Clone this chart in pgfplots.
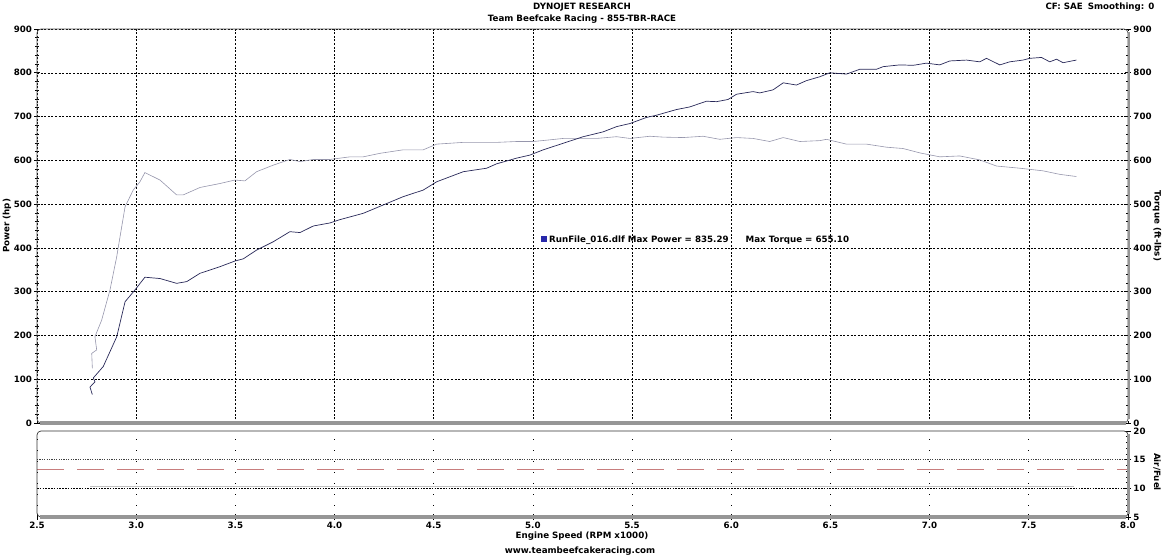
\documentclass[border=0pt]{standalone}
\usepackage{pgfplots}
\pgfplotsset{compat=1.18}
\usepackage{fontspec}
\setmainfont{DejaVu Sans}
\newcommand\f{\fontsize{8.7}{10}\selectfont\bfseries}
\definecolor{pow}{RGB}{40,40,88}
\definecolor{tq}{RGB}{150,150,172}
\definecolor{afr}{RGB}{200,125,125}
\definecolor{frgray}{RGB}{150,150,150}
\definecolor{legblue}{RGB}{40,40,170}
\begin{document}
\begin{tikzpicture}[x=1pt,y=1pt]
\path[use as bounding box] (0,0) rectangle (1164,556);
\pgfplotsset{
  common/.style={
    width=1091pt, scale only axis,
    xmin=2.5, xmax=8,
    axis line style={draw=none},
    tick align=center,
    major tick length=6pt, minor tick length=4pt,
    tick style={black, line width=0.6pt},
    ticklabel style={font=\f},
    /pgf/number format/assume math mode=true,
    clip=true,
  }
}
% main axis: power and torque
\begin{axis}[common, height=394pt, at={(37pt,133pt)}, anchor=south west,
  ymin=0, ymax=900,
  xtick={2.5,3,...,8}, xticklabels={}, xtick style={draw=none},
  ytick={0,100,...,900}, minor y tick num=4,
  ytick pos=left, yticklabel pos=left,
  yticklabel style={xshift=1.5pt},
  grid=major,
  major grid style={black, line width=0.5pt, dash pattern=on 2pt off 1.6pt},
]
\addplot[tq, line width=0.6pt] coordinates {
(2.779,125) (2.776,159) (2.801,167) (2.792,197) (2.826,235) (2.868,304)
(2.902,380) (2.927,448) (2.944,494) (2.985,532) (3.019,551) (3.044,572)
(3.120,555) (3.204,521) (3.237,521) (3.322,538) (3.422,547) (3.498,555)
(3.548,553) (3.607,574) (3.691,589) (3.775,602) (3.826,597) (3.893,602)
(3.977,602) (4.078,608) (4.145,608) (4.229,616) (4.346,624) (4.447,624)
(4.515,637) (4.649,641) (4.817,641) (4.918,643) (5.002,643) (5.069,646)
(5.153,650) (5.321,650) (5.422,654) (5.489,650) (5.590,655) (5.657,653)
(5.758,652) (5.858,655) (5.942,648) (6.027,652) (6.110,650) (6.194,643)
(6.262,652) (6.346,643) (6.447,645) (6.480,648) (6.581,637) (6.682,637)
(6.783,630) (6.866,627) (6.951,617) (7.051,608) (7.152,610) (7.253,601)
(7.337,587) (7.455,582) (7.572,576) (7.656,568) (7.740,563)
};
\addplot[pow, line width=0.7pt] coordinates {
(2.779,65) (2.767,82) (2.792,94) (2.784,103) (2.834,129) (2.902,197)
(2.944,277) (2.994,304) (3.044,333) (3.120,330) (3.204,319) (3.255,323)
(3.322,342) (3.422,357) (3.498,370) (3.540,375) (3.607,395) (3.691,414)
(3.775,437) (3.826,435) (3.893,450) (3.977,457) (4.023,464) (4.145,479)
(4.346,517) (4.447,532) (4.515,551) (4.649,574) (4.767,582) (4.817,592)
(4.918,605) (4.985,612) (5.052,624) (5.153,639) (5.254,654) (5.354,665)
(5.422,677) (5.489,684) (5.573,698) (5.623,703) (5.724,716) (5.791,722)
(5.875,735) (5.926,734) (5.984,739) (6.027,751) (6.110,757) (6.144,754)
(6.211,761) (6.262,777) (6.329,772) (6.379,782) (6.447,791) (6.497,800)
(6.581,797) (6.648,808) (6.732,808) (6.766,814) (6.850,818) (6.917,817)
(6.984,822) (7.051,818) (7.102,827) (7.186,829) (7.253,825) (7.287,833)
(7.354,818) (7.404,825) (7.471,829) (7.505,833) (7.564,835) (7.606,825)
(7.640,831) (7.673,823) (7.740,829)
};
\end{axis}
% right torque scale
\begin{axis}[common, height=394pt, at={(37pt,133pt)}, anchor=south west,
  ymin=0, ymax=900,
  xtick=\empty,
  ytick={0,100,...,900}, minor y tick num=4,
  ytick pos=right, yticklabel pos=right,
  yticklabel style={xshift=-1pt},
]
\addplot[draw=none] coordinates {(2.5,0)};
\end{axis}
% lower air/fuel panel
\begin{axis}[common, height=86pt, at={(37pt,39pt)}, anchor=south west,
  ymin=5, ymax=20,
  ytick={5,10,15,20}, minor y tick num=4,
  ytick pos=right, yticklabel pos=right,
  yticklabel style={xshift=-1pt},
  xtick={2.5,3,...,8}, minor x tick num=4,
  xtick pos=bottom,
  xticklabel style={yshift=1pt, /pgf/number format/fixed, /pgf/number format/fixed zerofill, /pgf/number format/precision=1},
  xmajorgrids=true,
  major grid style={black, line width=0.6pt, dash pattern=on 1.2pt off 9.8pt},
]
\draw[black!75, line width=0.5pt, dash pattern=on 1.2pt off 1.2pt] (axis cs:2.5,15) -- (axis cs:8,15);
\draw[black, line width=0.5pt, dash pattern=on 1.6pt off 1.2pt] (axis cs:2.5,10) -- (axis cs:8,10);
\addplot[black!25, line width=1pt] coordinates {(2.767,10.4) (7.73,10.4)};
\addplot[afr, line width=0.8pt, dash pattern=on 27pt off 13pt] coordinates {(2.5,13.25) (8,13.25)};
\end{axis}
% frames
\draw[black!70, line width=0.7pt, rounded corners=4pt] (37,133) rectangle (1128,527);
\draw[frgray, line width=3.5pt] (40,133) -- (1126,133);
\draw[frgray, line width=2.5pt] (1129,137) -- (1129,524);
\draw[black!80, line width=0.7pt, rounded corners=4pt] (37,39) rectangle (1128,125);
\draw[frgray, line width=3.5pt] (40,39) -- (1126,39);
\draw[frgray, line width=3pt] (1128.5,42) -- (1128.5,122);
% legend
\node[anchor=west, inner sep=0pt, font=\f] at (540.5,316) {\textcolor{legblue}{\rule[0pt]{6pt}{6pt}}\hspace{2.5pt}RunFile\_016.dlf Max Power = 835.29\hspace{17pt}Max Torque = 655.10};
% titles and labels
\node[font=\f] at (582,549) {DYNOJET RESEARCH};
\node[font=\f] at (582,537) {Team Beefcake Racing - 855-TBR-RACE};
\node[font=\f, anchor=east] at (1158,549) {CF: SAE\hspace{5pt}Smoothing: 0};
\node[font=\f, rotate=90] at (7,330) {Power (hp)};
\node[font=\f, rotate=-90] at (1157,330) {Torque (ft-lbs)};
\node[font=\f, rotate=-90] at (1157,84) {Air/Fuel};
\node[font=\f] at (582,20) {Engine Speed (RPM x1000)};
\node[font=\f] at (580,5) {www.teambeefcakeracing.com};
\end{tikzpicture}
\end{document}
